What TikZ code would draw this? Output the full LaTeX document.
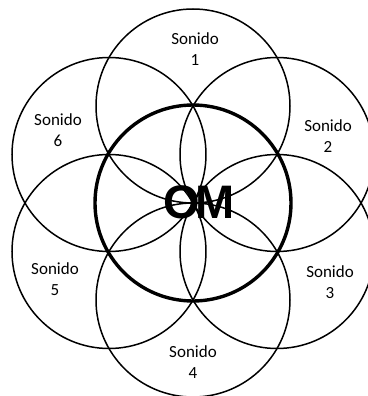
\documentclass[tikz,border=0pt]{standalone}
\usepackage{fontspec}
\usetikzlibrary{calc}
\setmainfont{Carlito}
\newfontfamily\omfont{Liberation Sans}
\begin{document}
\begin{tikzpicture}[x=1pt,y=-1pt,
  ring/.style={circle,draw=black,line width=1.5pt,minimum size=194pt,inner sep=0pt},
  mainring/.style={circle,draw=black,line width=3.4pt,minimum size=196pt,inner sep=0pt},
  lab/.style={align=center,font=\fontsize{17}{21}\selectfont,inner sep=0pt}]
\useasboundingbox (0,0) rectangle (367,396);
\coordinate (C) at (193,203);
\foreach \i/\a in {1/90,2/30,3/-30,4/-90,5/-150,6/150}{
  \node[ring] (c\i) at ($(C)+(\a:97pt)$) {};
}
\node[mainring] (c0) at (C) {};
\node[lab] (s1) at (195,49) {Sonido\\1};
\node[lab] (s2) at (328,136) {Sonido\\2};
\node[lab] (s3) at (330,282) {Sonido\\3};
\node[lab] (s4) at (193,362) {Sonido\\4};
\node[lab] (s5) at (55,279) {Sonido\\5};
\node[lab] (s6) at (58,130) {Sonido\\6};
\node[inner sep=0pt,font=\omfont\bfseries\fontsize{47}{47}\selectfont] (om) at (199,202) {O\kern-0.1emM};
\end{tikzpicture}
\end{document}
